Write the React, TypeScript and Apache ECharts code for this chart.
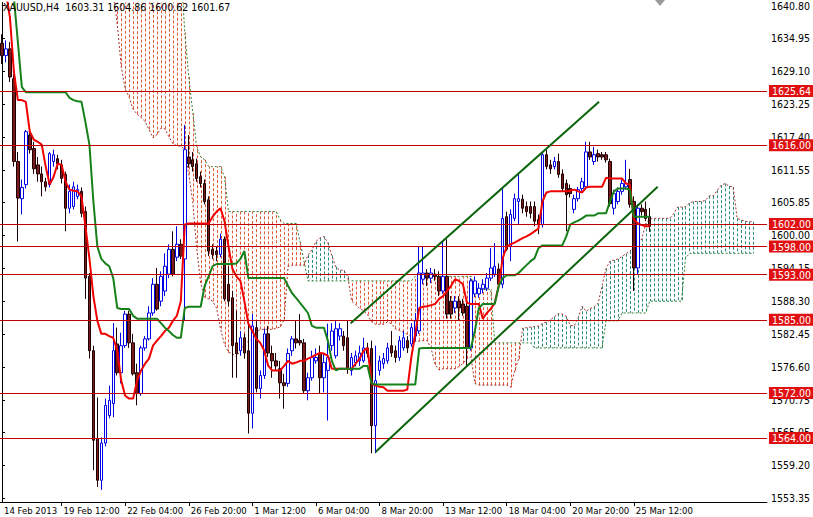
import React, { useEffect, useRef } from "react";
import * as echarts from "echarts";

const N_SLOTS = 193;
const FONT = "'Liberation Sans Narrow', 'DejaVu Sans Condensed', 'Liberation Sans', sans-serif";

const title = "XAUUSD,H4  1603.31 1604.86 1600.62 1601.67";

const xTickIdx = [0, 15, 31, 47, 63, 79, 95, 111, 127, 143, 159];
const xTickLabels = [
  "14 Feb 2013", "19 Feb 12:00", "22 Feb 04:00", "26 Feb 20:00", "1 Mar 12:00",
  "6 Mar 04:00", "8 Mar 20:00", "13 Mar 12:00", "18 Mar 04:00", "20 Mar 20:00", "25 Mar 12:00",
];

const yTickValues = [
  1640.8, 1634.95, 1629.1, 1623.25, 1617.4, 1611.55, 1605.85, 1600.0,
  1594.15, 1588.3, 1582.45, 1576.6, 1570.75, 1565.05, 1559.2, 1553.35,
];

const levels = [1625.64, 1616.0, 1602.0, 1598.0, 1593.0, 1585.0, 1572.0, 1564.0];

// [open, high, low, close]
const candles = [
  [1634.1, 1635.7, 1630.4, 1631.9], [1631.9, 1634.6, 1630.7, 1633.1], [1633.1, 1634.3, 1627.2, 1628.1],
  [1627.8, 1628.6, 1612.2, 1613.1], [1613.1, 1614.8, 1598.9, 1606.6], [1606.5, 1609.9, 1603.7, 1608.5],
  [1609.0, 1618.7, 1608.3, 1618.4], [1617.8, 1619.2, 1614.5, 1615.2], [1615.4, 1616.6, 1610.9, 1611.8],
  [1612.5, 1613.9, 1609.5, 1610.9], [1610.9, 1612.2, 1606.9, 1609.5], [1609.5, 1610.2, 1607.8, 1608.6],
  [1609.0, 1614.8, 1608.5, 1614.5], [1613.1, 1615.2, 1612.2, 1614.3], [1613.6, 1614.3, 1611.7, 1612.7],
  [1612.5, 1613.4, 1609.2, 1610.1], [1610.8, 1611.3, 1600.7, 1604.8], [1604.8, 1609.0, 1603.9, 1607.8],
  [1605.1, 1609.5, 1604.6, 1608.6], [1606.9, 1609.0, 1606.4, 1608.1], [1607.8, 1608.5, 1603.2, 1603.9],
  [1604.2, 1605.1, 1588.7, 1592.4], [1592.7, 1593.3, 1578.1, 1579.5], [1579.5, 1580.4, 1558.3, 1563.6],
  [1563.9, 1571.2, 1555.3, 1556.5], [1556.5, 1564.1, 1554.8, 1563.1], [1563.1, 1571.0, 1562.5, 1569.8],
  [1568.0, 1573.3, 1567.5, 1570.7], [1570.1, 1584.4, 1567.7, 1579.5], [1580.7, 1583.6, 1575.1, 1575.6],
  [1575.6, 1582.7, 1573.7, 1580.4], [1580.4, 1586.6, 1580.0, 1586.0], [1586.0, 1586.6, 1580.0, 1580.9],
  [1580.9, 1582.5, 1575.1, 1575.4], [1575.6, 1577.2, 1569.8, 1571.9], [1571.9, 1580.4, 1571.5, 1580.0],
  [1580.0, 1582.1, 1579.5, 1581.6], [1581.6, 1587.4, 1581.3, 1586.2], [1586.2, 1592.4, 1585.7, 1591.3],
  [1591.3, 1594.2, 1586.6, 1586.9], [1588.3, 1593.6, 1587.4, 1592.7], [1590.1, 1596.8, 1589.2, 1594.5],
  [1593.1, 1598.4, 1592.4, 1597.5], [1597.5, 1600.7, 1592.7, 1593.1], [1596.1, 1601.6, 1595.4, 1598.4],
  [1598.4, 1599.3, 1595.8, 1596.3], [1595.8, 1619.6, 1584.8, 1615.2], [1613.9, 1617.8, 1612.0, 1612.7],
  [1613.4, 1614.8, 1611.3, 1612.2], [1612.7, 1613.6, 1609.5, 1610.1], [1610.4, 1611.3, 1608.5, 1609.2],
  [1609.2, 1609.9, 1605.5, 1606.0], [1606.3, 1606.9, 1596.3, 1597.2], [1597.5, 1598.4, 1595.8, 1596.6],
  [1597.2, 1598.0, 1595.4, 1596.6], [1596.6, 1600.3, 1596.1, 1599.3], [1599.3, 1599.8, 1588.3, 1588.7],
  [1591.3, 1594.5, 1587.4, 1588.3], [1588.9, 1590.1, 1574.7, 1580.4], [1580.9, 1586.6, 1574.7, 1579.0],
  [1579.5, 1583.0, 1578.6, 1581.8], [1581.8, 1582.5, 1578.1, 1579.1], [1579.5, 1584.3, 1564.8, 1568.4],
  [1568.4, 1586.0, 1565.7, 1583.9], [1583.6, 1584.8, 1572.1, 1572.8], [1572.8, 1576.0, 1571.0, 1575.1],
  [1575.1, 1583.4, 1574.5, 1582.5], [1582.5, 1583.9, 1578.4, 1579.1], [1579.0, 1580.4, 1574.7, 1577.7],
  [1577.7, 1579.1, 1576.0, 1576.8], [1576.3, 1577.7, 1571.0, 1573.8], [1573.8, 1575.4, 1569.2, 1573.3],
  [1573.7, 1579.9, 1573.1, 1579.0], [1579.5, 1582.1, 1578.6, 1581.6], [1581.6, 1584.8, 1579.9, 1580.9],
  [1581.3, 1586.0, 1580.4, 1580.9], [1580.9, 1581.6, 1571.9, 1572.4], [1572.4, 1575.6, 1570.7, 1574.7],
  [1574.7, 1579.5, 1574.2, 1578.3], [1577.7, 1579.9, 1577.2, 1578.3], [1579.0, 1580.4, 1571.9, 1574.7],
  [1574.7, 1579.1, 1572.1, 1577.4], [1576.0, 1584.3, 1567.1, 1578.3], [1580.4, 1584.4, 1579.5, 1583.0],
  [1578.6, 1584.8, 1578.1, 1583.4], [1582.1, 1584.4, 1581.3, 1583.4], [1582.1, 1583.0, 1579.5, 1580.4],
  [1581.8, 1584.8, 1575.4, 1576.5], [1576.0, 1579.1, 1575.1, 1578.3], [1577.4, 1579.5, 1576.7, 1578.6],
  [1577.7, 1580.4, 1576.8, 1579.1], [1577.7, 1581.8, 1577.4, 1580.0], [1580.0, 1580.9, 1578.3, 1579.0],
  [1579.9, 1581.3, 1561.3, 1566.2], [1566.2, 1580.4, 1561.3, 1574.2], [1576.0, 1578.6, 1575.1, 1577.7],
  [1577.2, 1579.1, 1576.3, 1578.1], [1577.7, 1580.9, 1577.2, 1580.0], [1580.4, 1583.0, 1578.4, 1579.1],
  [1579.5, 1580.4, 1577.4, 1578.3], [1578.3, 1582.1, 1577.7, 1581.3], [1580.0, 1583.0, 1579.5, 1581.8],
  [1581.3, 1582.1, 1579.1, 1580.0], [1580.7, 1584.4, 1580.2, 1583.6], [1582.1, 1586.2, 1581.3, 1584.8],
  [1583.0, 1598.0, 1582.5, 1593.3], [1592.2, 1598.0, 1591.3, 1593.3], [1593.3, 1594.0, 1591.0, 1592.4],
  [1592.4, 1594.2, 1591.5, 1593.3], [1593.1, 1594.0, 1591.9, 1592.7], [1592.7, 1593.6, 1589.2, 1590.1],
  [1590.1, 1598.9, 1589.6, 1592.7], [1592.7, 1599.3, 1585.2, 1586.0], [1588.3, 1589.2, 1585.2, 1586.0],
  [1587.1, 1589.2, 1586.2, 1588.3], [1588.3, 1589.2, 1584.8, 1587.1], [1587.8, 1588.7, 1585.7, 1586.2],
  [1587.4, 1588.3, 1576.8, 1580.0], [1580.0, 1592.4, 1579.5, 1591.9], [1589.6, 1592.7, 1589.0, 1591.9],
  [1589.6, 1591.5, 1588.9, 1590.6], [1590.5, 1592.2, 1589.7, 1591.3], [1590.6, 1593.3, 1590.1, 1592.4],
  [1592.4, 1597.7, 1591.9, 1594.2], [1593.1, 1598.6, 1592.6, 1594.5], [1594.0, 1595.0, 1590.6, 1591.3],
  [1591.3, 1608.3, 1590.6, 1603.0], [1603.3, 1604.2, 1597.2, 1597.5], [1598.0, 1604.6, 1595.4, 1603.7],
  [1603.0, 1607.4, 1602.5, 1606.5], [1606.0, 1610.9, 1601.9, 1606.5], [1606.4, 1607.2, 1603.9, 1604.8],
  [1605.1, 1606.0, 1603.3, 1604.2], [1605.1, 1606.0, 1603.0, 1603.9], [1605.1, 1606.0, 1601.6, 1602.5],
  [1602.8, 1603.7, 1600.2, 1601.9], [1601.9, 1614.8, 1601.4, 1614.3], [1614.3, 1615.2, 1611.7, 1612.2],
  [1612.5, 1613.4, 1610.9, 1611.8], [1612.2, 1613.9, 1611.7, 1613.1], [1613.1, 1614.5, 1610.2, 1610.8],
  [1610.9, 1611.7, 1607.8, 1608.3], [1609.2, 1609.9, 1600.7, 1607.2], [1608.3, 1609.0, 1606.7, 1607.4],
  [1604.6, 1607.2, 1603.9, 1606.5], [1606.5, 1608.6, 1606.0, 1608.1], [1608.3, 1610.2, 1607.8, 1609.5],
  [1608.6, 1616.6, 1608.1, 1614.8], [1614.8, 1616.6, 1613.4, 1613.9], [1613.1, 1615.7, 1612.5, 1614.3],
  [1614.5, 1615.2, 1613.1, 1613.9], [1614.3, 1614.8, 1613.4, 1613.9], [1614.3, 1614.8, 1612.9, 1613.4],
  [1613.1, 1613.6, 1605.1, 1605.6], [1604.8, 1608.1, 1603.7, 1607.4], [1606.0, 1608.5, 1605.5, 1607.8],
  [1607.8, 1609.9, 1607.2, 1609.2], [1608.6, 1613.4, 1608.1, 1609.2], [1609.9, 1611.8, 1604.9, 1605.5],
  [1606.0, 1606.9, 1590.1, 1594.2], [1594.2, 1605.5, 1593.1, 1604.8], [1604.8, 1605.5, 1603.5, 1604.2],
  [1604.6, 1606.0, 1602.5, 1603.0], [1603.31, 1604.86, 1600.62, 1601.67],
];

const tenkan = [
  1646.6, 1643.1, 1638.7, 1629.0, 1624.0, 1624.0, 1623.7, 1618.4, 1617.0, 1616.6,
  1616.1, 1612.2, 1609.0, 1610.4, 1612.7, 1612.5, 1609.5, 1608.1, 1607.9, 1607.8,
  1606.9, 1601.6, 1595.9, 1589.2, 1584.8, 1582.5, 1582.5, 1582.1, 1581.8, 1579.5,
  1574.2, 1571.5, 1571.0, 1571.0, 1574.2, 1576.0, 1577.2, 1578.1, 1580.4, 1581.3,
  1582.1, 1583.0, 1583.6, 1584.8, 1585.7, 1588.3, 1601.9, 1602.1, 1602.1, 1602.1,
  1602.1, 1602.1, 1602.1, 1603.3, 1604.2, 1604.8, 1602.5, 1598.0, 1594.0, 1592.7,
  1591.9, 1588.3, 1584.3, 1583.0, 1581.6, 1580.9, 1579.5, 1576.8, 1576.0, 1576.0,
  1576.0, 1576.8, 1577.7, 1577.2, 1577.4, 1577.7, 1577.7, 1578.1, 1578.4, 1578.8,
  1579.1, 1579.0, 1578.6, 1576.3, 1576.3, 1576.3, 1576.3, 1576.3, 1576.3, 1577.2,
  1578.1, 1579.5, 1580.0, 1573.7, 1573.3, 1573.1, 1573.0, 1572.4, 1572.4, 1572.4,
  1572.4, 1572.4, 1572.6, 1578.3, 1582.5, 1587.1, 1587.3, 1587.4, 1587.6, 1587.8,
  1588.7, 1589.2, 1590.1, 1591.0, 1592.2, 1591.9, 1591.3, 1588.0, 1587.8, 1587.8,
  1587.8, 1585.2, 1586.2, 1586.9, 1588.0, 1591.0, 1595.9, 1598.0, 1598.4, 1598.7,
  1599.1, 1599.5, 1599.8, 1600.2, 1600.7, 1601.2, 1606.0, 1607.6, 1607.8, 1607.8,
  1607.8, 1607.8, 1607.8, 1607.9, 1608.1, 1607.8, 1607.6, 1608.5, 1608.6, 1608.6,
  1608.6, 1608.6, 1610.2, 1610.1, 1610.1, 1610.1, 1610.1, 1609.2, 1609.0, 1602.8,
  1602.1, 1601.8, 1601.6, 1601.6,
];

const kijun = [
  1646.6, 1646.6, 1646.6, 1642.2, 1634.3, 1626.3, 1625.4, 1625.4, 1625.4, 1625.4,
  1625.4, 1625.4, 1625.4, 1625.4, 1625.4, 1625.4, 1625.4, 1624.4, 1624.0, 1623.8,
  1623.7, 1620.1, 1616.1, 1606.0, 1598.0, 1595.8, 1595.0, 1594.5, 1592.4, 1587.1,
  1586.9, 1586.9, 1586.9, 1585.7, 1585.2, 1585.2, 1585.2, 1585.2, 1585.2, 1585.2,
  1584.4, 1583.6, 1583.0, 1582.3, 1581.8, 1581.8, 1587.1, 1587.3, 1587.3, 1587.3,
  1587.3, 1591.0, 1592.7, 1594.5, 1594.9, 1594.9, 1594.9, 1594.9, 1594.9, 1595.0,
  1595.8, 1597.2, 1592.4, 1592.4, 1592.4, 1592.4, 1592.4, 1592.4, 1592.4, 1592.4,
  1592.4, 1592.4, 1591.0, 1589.7, 1588.9, 1588.0, 1587.1, 1586.2, 1583.9, 1583.6,
  1583.6, 1583.6, 1581.3, 1577.7, 1576.0, 1576.3, 1576.3, 1576.3, 1576.3, 1576.3,
  1576.3, 1576.8, 1576.8, 1573.7, 1573.5, 1573.5, 1573.5, 1573.5, 1573.5, 1573.5,
  1573.5, 1573.5, 1573.5, 1573.5, 1573.5, 1579.9, 1580.0, 1580.0, 1580.0, 1580.0,
  1580.0, 1580.0, 1580.0, 1580.0, 1580.0, 1580.0, 1580.0, 1580.0, 1580.0, 1583.0,
  1587.1, 1587.8, 1587.8, 1587.8, 1587.8, 1591.0, 1592.4, 1592.9, 1592.9, 1592.9,
  1593.3, 1594.0, 1594.7, 1595.4, 1595.9, 1597.7, 1598.2, 1598.2, 1598.2, 1598.2,
  1598.2, 1598.2, 1599.8, 1601.9, 1602.3, 1602.6, 1603.0, 1603.5, 1603.5, 1603.5,
  1603.9, 1603.9, 1603.9, 1606.0, 1607.8, 1608.3, 1608.3, 1608.3, 1608.1, 1603.3,
  1603.3, 1603.3, 1603.3, 1603.3,
];

// Senkou spans, plotted from slot spanStart (already shifted forward)
const spanStart = 28;
const spanA = [
  1643.5, 1637.5, 1630.0, 1626.0, 1624.5, 1622.4, 1621.5, 1620.9, 1620.2, 1618.8,
  1617.3, 1617.9, 1619.0, 1618.9, 1617.5, 1616.3, 1615.9, 1615.8, 1615.3, 1610.8,
  1606.0, 1597.7, 1591.5, 1589.0, 1588.7, 1588.3, 1587.1, 1583.4, 1580.6, 1579.2,
  1579.0, 1578.4, 1579.7, 1580.6, 1581.2, 1581.6, 1582.8, 1583.3, 1583.3, 1583.3,
  1583.3, 1583.5, 1583.7, 1585.0, 1594.5, 1594.7, 1594.7, 1594.7, 1594.7, 1596.5,
  1597.4, 1598.9, 1599.5, 1599.8, 1598.7, 1596.4, 1594.4, 1593.8, 1593.8, 1592.7,
  1588.3, 1587.7, 1587.0, 1586.6, 1585.9, 1584.6, 1584.2, 1584.2, 1584.2, 1584.6,
  1584.3, 1583.4, 1583.1, 1582.8, 1582.4, 1582.1, 1581.1, 1581.2, 1581.3, 1581.3,
  1579.9, 1577.0, 1576.1, 1576.3, 1576.3, 1576.3, 1576.3, 1576.7, 1577.2, 1578.1,
  1578.4, 1573.7, 1573.4, 1573.4, 1573.4, 1573.4, 1573.4, 1573.4, 1573.4, 1573.4,
  1573.0, 1575.9, 1578.0, 1583.5, 1583.6, 1583.7, 1583.8, 1583.9, 1584.3, 1584.6,
  1585.0, 1585.5, 1586.1, 1586.0, 1585.6, 1584.0, 1583.9, 1585.4, 1587.4, 1586.5,
  1587.0, 1587.3, 1587.9, 1591.0, 1594.1, 1595.4, 1595.6, 1595.8, 1596.2, 1596.7,
  1597.2, 1597.8, 1598.3, 1599.4, 1602.1, 1602.9, 1603.0, 1603.0, 1603.0, 1603.0,
  1603.0, 1603.8, 1605.0, 1605.0, 1605.1, 1605.7, 1606.0, 1606.0, 1606.0, 1606.2,
  1607.0, 1607.0, 1608.0, 1608.9, 1609.2, 1608.7, 1608.6, 1603.0, 1602.7, 1602.5,
  1602.4, 1602.4,
];
const spanB = [
  1650.0, 1650.0, 1650.0, 1650.0, 1650.0, 1650.0, 1650.0, 1650.0, 1650.0, 1650.0,
  1650.0, 1650.0, 1650.0, 1650.0, 1650.0, 1650.0, 1650.0, 1648.0, 1636.0, 1628.1,
  1621.9, 1615.7, 1613.9, 1613.4, 1612.2, 1612.2, 1612.2, 1612.2, 1610.4, 1604.2,
  1604.2, 1604.2, 1604.2, 1604.2, 1604.2, 1604.2, 1604.2, 1604.2, 1604.2, 1604.2,
  1604.2, 1604.2, 1602.8, 1602.1, 1602.1, 1602.1, 1602.1, 1598.9, 1595.4, 1591.9,
  1591.9, 1591.9, 1591.9, 1591.9, 1591.9, 1591.9, 1591.9, 1591.9, 1591.9, 1591.9,
  1591.9, 1591.9, 1591.9, 1591.9, 1591.9, 1591.9, 1591.9, 1591.9, 1591.9, 1591.9,
  1591.9, 1591.9, 1591.9, 1591.9, 1591.9, 1591.9, 1592.7, 1592.7, 1592.7, 1592.7,
  1592.7, 1592.7, 1592.7, 1592.7, 1592.7, 1592.7, 1592.7, 1592.7, 1592.7, 1592.7,
  1592.7, 1590.4, 1590.4, 1590.4, 1590.4, 1590.4, 1580.9, 1580.9, 1580.9, 1580.9,
  1580.9, 1580.9, 1580.9, 1580.9, 1580.9, 1580.9, 1580.0, 1580.0, 1580.0, 1580.0,
  1580.0, 1580.0, 1580.0, 1580.0, 1580.0, 1580.0, 1580.0, 1580.0, 1580.0, 1580.0,
  1580.0, 1580.0, 1580.0, 1580.0, 1584.8, 1584.8, 1584.8, 1584.8, 1586.2, 1586.2,
  1586.2, 1586.2, 1586.2, 1586.2, 1586.2, 1588.3, 1588.3, 1588.3, 1588.3, 1588.3,
  1588.3, 1588.3, 1588.3, 1588.3, 1595.9, 1596.8, 1596.8, 1596.8, 1596.8, 1596.8,
  1596.8, 1596.8, 1596.8, 1596.8, 1596.8, 1596.8, 1596.8, 1596.8, 1596.8, 1596.8,
  1596.8, 1596.8,
];

// trend channel: [slot, price]
const channelUpper = [[87.75, 1584.4], [150.25, 1623.7]];
const channelLower = [[94, 1561.5], [165, 1608.6]];

const Y_MIN = 1552.64;
const Y_MAX = 1641.33;

export default function App() {
  const ref = useRef<HTMLDivElement>(null);

  useEffect(() => {
    if (!ref.current) return;
    const chart = echarts.init(ref.current, null, { renderer: "svg" });
    const cats = Array.from({ length: N_SLOTS }, (_, i) => String(i));
    const labelAt = new Map<number, string>(xTickIdx.map((ix, k) => [ix, xTickLabels[k]]));
    const cloudData = spanA.map((a, k) => [spanStart + k, a, spanB[k]]);
    const SALMON = "#e4583a";
    const TEAL = "#2c8c82";

    const option: any = {
      animation: false,
      backgroundColor: "#ffffff",
      grid: { left: 0, right: 40, top: 0, bottom: 15, containLabel: false },
      xAxis: [
        {
          type: "category",
          data: cats,
          boundaryGap: true,
          axisLine: { show: true, lineStyle: { color: "#000", width: 1 } },
          axisTick: {
            show: true,
            alignWithLabel: true,
            length: 4,
            interval: (i: number) => i !== 0 && labelAt.has(i),
            lineStyle: { color: "#000" },
          },
          axisLabel: {
            show: true,
            interval: (i: number) => labelAt.has(i),
            formatter: (_v: string, i: number) => labelAt.get(i) || "",
            align: "left",
            color: "#000",
            fontSize: 9.5,
            fontFamily: FONT,
            margin: 3,
            padding: [0, 0, 0, 2],
          },
          splitLine: { show: false },
        },
        { type: "value", min: -0.5, max: N_SLOTS - 0.5, show: false },
      ],
      yAxis: {
        type: "value",
        position: "right",
        min: Y_MIN,
        max: Y_MAX,
        axisLine: { show: true, lineStyle: { color: "#000", width: 1 } },
        axisTick: { show: true, length: 3, customValues: yTickValues, lineStyle: { color: "#000" } },
        axisLabel: {
          show: true,
          customValues: yTickValues,
          formatter: (v: number) => v.toFixed(2),
          color: "#000",
          fontSize: 10.5,
          fontFamily: FONT,
          margin: 4,
        },
        splitLine: { show: false },
      },
      graphic: [
        {
          type: "text",
          left: 3,
          top: 1,
          style: { text: title, fill: "#000", font: `10.5px ${FONT}` },
          z: 100,
        },
        {
          type: "polygon",
          shape: { points: [[655, 0], [665, 0], [660, 6]] },
          style: { fill: "#9a9a9a" },
          z: 100,
        },
      ],
      series: [
        {
          type: "custom",
          name: "kumo",
          xAxisIndex: 0,
          yAxisIndex: 0,
          clip: true,
          z: 1,
          data: cloudData,
          encode: { x: 0, y: [1, 2] },
          renderItem: (params: any, api: any) => {
            const k = params.dataIndex;
            const j = spanStart + k;
            const a = spanA[k];
            const b = spanB[k];
            const pa = api.coord([j, a]);
            const pb = api.coord([j, b]);
            const x = Math.round(pa[0]) + 0.5;
            return {
              type: "line",
              shape: { x1: x, y1: pa[1], x2: x, y2: pb[1] },
              style: { stroke: a > b ? TEAL : SALMON, lineWidth: 1, lineDash: [3, 2] },
            };
          },
        },
        {
          type: "line",
          name: "spanA",
          data: spanA.map((v, k) => [spanStart + k, v]),
          symbol: "none",
          z: 2,
          lineStyle: { color: "#a8322a", width: 1, type: [2, 2] },
        },
        {
          type: "line",
          name: "spanB",
          data: spanB.map((v, k) => [spanStart + k, v]),
          symbol: "none",
          z: 2,
          lineStyle: { color: "#2f7f2f", width: 1, type: [2, 2] },
        },
        {
          type: "candlestick",
          name: "XAUUSD",
          data: candles.map(([o, h, l, c]) => [o, c, l, h]),
          barWidth: 3,
          z: 3,
          itemStyle: {
            color: "#ffffff",
            color0: "#7a1a1a",
            borderColor: "#0000e6",
            borderColor0: "#1e0000",
            borderWidth: 1,
          },
        },
        {
          type: "line",
          name: "tenkan",
          data: tenkan,
          symbol: "none",
          z: 4,
          lineStyle: { color: "#f00000", width: 2 },
        },
        {
          type: "line",
          name: "kijun",
          data: kijun,
          symbol: "none",
          z: 4,
          lineStyle: { color: "#16801a", width: 2 },
        },
        {
          type: "line",
          name: "levels",
          data: [],
          z: 5,
          markLine: {
            silent: true,
            symbol: ["none", "none"],
            precision: 2,
            lineStyle: { color: "#c00000", width: 1, type: "solid" },
            label: {
              show: true,
              position: "end",
              distance: 2,
              formatter: (p: any) => Number(p.value).toFixed(2),
              color: "#ffffff",
              backgroundColor: "#e01010",
              padding: [1, 3, 0, 3],
              fontSize: 10.5,
              fontFamily: FONT,
              lineHeight: 11,
            },
            emphasis: { disabled: true },
            data: levels.map((v) => ({ yAxis: v })),
          },
        },
        {
          type: "line",
          name: "channelUpper",
          xAxisIndex: 1,
          data: channelUpper,
          symbol: "none",
          z: 6,
          lineStyle: { color: "#0a640a", width: 2 },
        },
        {
          type: "line",
          name: "channelLower",
          xAxisIndex: 1,
          data: channelLower,
          symbol: "none",
          z: 6,
          lineStyle: { color: "#0a640a", width: 2 },
        },
      ],
    };

    chart.setOption(option);
    return () => chart.dispose();
  }, []);

  return (
    <div
      ref={ref}
      style={{ position: "fixed", left: 0, top: 0, width: 813, height: 517, background: "#fff" }}
    />
  );
}
